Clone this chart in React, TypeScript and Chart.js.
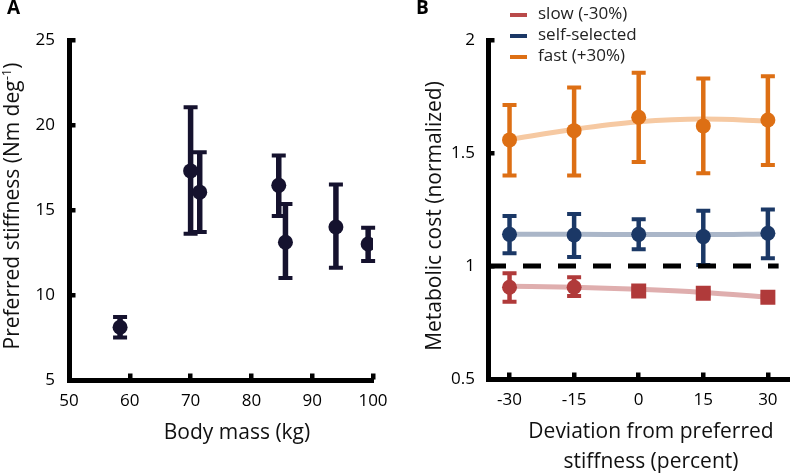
import React, { useEffect, useRef } from "react";
import { Chart, registerables } from "chart.js";

Chart.register(...registerables);

const FONT = "'Open Sans', 'Noto Sans', sans-serif";

// ---------- Panel A data ----------
const bodyMassKg = [58.4, 70.0, 71.5, 84.5, 85.6, 93.9, 99.2];
const prefStiffness = [8.1, 17.3, 16.05, 16.45, 13.1, 14.0, 13.0];
const stiffnessLow = [7.5, 13.6, 13.7, 14.65, 11.0, 11.6, 12.0];
const stiffnessHigh = [8.7, 21.05, 18.4, 18.2, 15.35, 16.5, 13.95];
const massTicks = [50, 60, 70, 80, 90, 100];
const stiffnessTicks = [5, 10, 15, 20, 25];

// ---------- Panel B data ----------
const deviationPct = [-30, -15, 0, 15, 30];
const deviationTicks = [-30, -15, 0, 15, 30];
const costTicks = [0.5, 1, 1.5, 2];
const slowCost = [0.906, 0.906, 0.889, 0.879, 0.862];
const slowLow = [0.842, 0.867, 0.878, 0.87, 0.852];
const slowHigh = [0.968, 0.95, 0.9, 0.888, 0.872];
const slowFit = [0.91, 0.906, 0.897, 0.883, 0.862];
const selfCost = [1.14, 1.137, 1.14, 1.13, 1.145];
const selfLow = [1.056, 1.04, 1.074, 1.004, 1.034];
const selfHigh = [1.221, 1.23, 1.207, 1.245, 1.25];
const selfFit = [1.14, 1.14, 1.139, 1.139, 1.142];
const fastCost = [1.558, 1.599, 1.658, 1.62, 1.646];
const fastLow = [1.4, 1.4, 1.46, 1.41, 1.447];
const fastHigh = [1.712, 1.79, 1.855, 1.83, 1.84];
const fastFit = [1.56, 1.605, 1.638, 1.65, 1.642];
const referenceX = [-35, 32.5];
const referenceY = [1, 1];
const legendLabels = ["slow (-30%)", "self-selected", "fast (+30%)"];

const NAVY = "#15122e";
const RED = "#b03a3a";
const RED_LIGHT = "#dfaeae";
const BLUE = "#1b3866";
const BLUE_LIGHT = "#aab6c8";
const ORANGE = "#dd6f14";
const ORANGE_LIGHT = "#f6c9a2";

const errorBarsPlugin = {
  id: "errorBars",
  beforeDatasetDraw(chart: any, args: any) {
    const ds: any = chart.data.datasets[args.index];
    if (!ds.errLo) return;
    const ctx = chart.ctx;
    const xs = chart.scales.x;
    const ys = chart.scales.y;
    ctx.save();
    ctx.strokeStyle = ds.errColor;
    ctx.lineCap = "butt";
    ds.data.forEach((p: any, i: number) => {
      const x = xs.getPixelForValue(p.x);
      const yLo = ys.getPixelForValue(ds.errLo[i]);
      const yHi = ys.getPixelForValue(ds.errHi[i]);
      ctx.lineWidth = ds.errWidth;
      ctx.beginPath();
      ctx.moveTo(x, yLo);
      ctx.lineTo(x, yHi);
      ctx.stroke();
      ctx.lineWidth = ds.capThick;
      const h = ds.capWidth / 2;
      ctx.beginPath();
      ctx.moveTo(x - h, yLo);
      ctx.lineTo(x + h, yLo);
      ctx.moveTo(x - h, yHi);
      ctx.lineTo(x + h, yHi);
      ctx.stroke();
    });
    ctx.restore();
  },
};

function tickMarksPlugin() {
  return {
    id: "tickMarks",
    afterDraw(chart: any) {
      const ctx = chart.ctx;
      const area = chart.chartArea;
      const xs = chart.scales.x;
      const ys = chart.scales.y;
      ctx.save();
      ctx.fillStyle = "#000";
      xs.ticks.forEach((t: any) => {
        if (t.value === xs.min) return;
        const x = xs.getPixelForValue(t.value);
        ctx.fillRect(Math.round(x - 2.25), area.bottom - 6.5, 4.5, 6);
      });
      ys.ticks.forEach((t: any) => {
        if (t.value === ys.min) return;
        const y = ys.getPixelForValue(t.value);
        ctx.fillRect(area.left, Math.round(y - 2.25), 6.5, 4.5);
      });
      ctx.restore();
    },
  };
}

function drawRotated(ctx: any, cx: number, cy: number, parts: { t: string; size: number; dy: number }[]) {
  ctx.save();
  ctx.translate(cx, cy);
  ctx.rotate(-Math.PI / 2);
  let total = 0;
  parts.forEach((p) => {
    ctx.font = `${p.size}px ${FONT}`;
    total += ctx.measureText(p.t).width;
  });
  let x = -total / 2;
  ctx.textBaseline = "middle";
  ctx.textAlign = "left";
  parts.forEach((p) => {
    ctx.font = `${p.size}px ${FONT}`;
    ctx.fillText(p.t, x, p.dy);
    x += ctx.measureText(p.t).width;
  });
  ctx.restore();
}

function textPluginA() {
  return {
    id: "textA",
    afterDraw(chart: any) {
      const ctx = chart.ctx;
      ctx.save();
      ctx.fillStyle = "#000";
      ctx.font = `bold 19px ${FONT}`;
      ctx.textAlign = "left";
      ctx.textBaseline = "top";
      ctx.fillText("A", 7, -1);
      ctx.fillStyle = "#111";
      ctx.font = `21px ${FONT}`;
      ctx.textAlign = "center";
      ctx.textBaseline = "middle";
      ctx.fillText("Body mass (kg)", 237, 433);
      drawRotated(ctx, 13, 206, [
        { t: "Preferred stiffness (Nm deg", size: 21, dy: 0 },
        { t: "-1", size: 13, dy: -6 },
        { t: ")", size: 21, dy: 0 },
      ]);
      ctx.restore();
    },
  };
}

function textPluginB() {
  return {
    id: "textB",
    afterDraw(chart: any) {
      const ctx = chart.ctx;
      ctx.save();
      ctx.fillStyle = "#000";
      ctx.font = `bold 19px ${FONT}`;
      ctx.textAlign = "left";
      ctx.textBaseline = "top";
      ctx.fillText("B", 16, -1);
      ctx.fillStyle = "#111";
      ctx.font = `21px ${FONT}`;
      ctx.textAlign = "center";
      ctx.textBaseline = "middle";
      ctx.fillText("Deviation from preferred", 251, 432);
      ctx.fillText("stiffness (percent)", 251, 462);
      drawRotated(ctx, 35, 216, [{ t: "Metabolic cost (normalized)", size: 21, dy: 0 }]);
      // legend
      const colors = ["#b94a4a", BLUE, ORANGE];
      const rowsY = [14, 35, 56];
      ctx.font = `17px ${FONT}`;
      ctx.textAlign = "left";
      legendLabels.forEach((lab, i) => {
        ctx.fillStyle = colors[i];
        ctx.fillRect(110, rowsY[i] - 1, 17, 4);
        ctx.fillStyle = "#222";
        ctx.fillText(lab, 138, rowsY[i]);
      });
      ctx.restore();
    },
  };
}

function tickFont() {
  return { family: FONT, size: 17 };
}

function configA(): any {
  return {
    type: "scatter",
    data: {
      datasets: [
        {
          data: bodyMassKg.map((m, i) => ({ x: m, y: prefStiffness[i] })),
          pointRadius: 7.5,
          pointBackgroundColor: NAVY,
          pointBorderWidth: 0,
          errLo: stiffnessLow,
          errHi: stiffnessHigh,
          errColor: NAVY,
          errWidth: 5.5,
          capThick: 4,
          capWidth: 14,
        },
      ],
    },
    options: {
      responsive: false,
      animation: false,
      devicePixelRatio: 1,
      events: [],
      layout: { padding: { top: 40, right: 27, left: 0, bottom: 0 } },
      plugins: { legend: { display: false }, tooltip: { enabled: false } },
      scales: {
        x: {
          type: "linear",
          min: 50,
          max: 100,
          afterBuildTicks: (s: any) => {
            s.ticks = massTicks.map((v) => ({ value: v }));
          },
          afterFit: (s: any) => {
            s.height = 94;
          },
          grid: { display: false, drawTicks: false },
          border: { display: true, width: 5, color: "#000" },
          ticks: { padding: 11, font: tickFont(), color: "#000", maxRotation: 0, autoSkip: false },
        },
        y: {
          type: "linear",
          min: 5,
          max: 25,
          afterBuildTicks: (s: any) => {
            s.ticks = stiffnessTicks.map((v) => ({ value: v }));
          },
          afterFit: (s: any) => {
            s.width = 69;
          },
          grid: { display: false, drawTicks: false },
          border: { display: true, width: 5, color: "#000" },
          ticks: { padding: 14, font: tickFont(), color: "#000", autoSkip: false },
        },
      },
    },
    plugins: [errorBarsPlugin, tickMarksPlugin(), textPluginA()],
  };
}

function scatterSet(vals: number[], lo: number[], hi: number[], color: string, styles: string[], radii: number[]) {
  return {
    type: "scatter",
    order: 0,
    data: deviationPct.map((d, i) => ({ x: d, y: vals[i] })),
    pointRadius: radii,
    pointStyle: styles,
    pointBackgroundColor: color,
    pointBorderWidth: 0,
    errLo: lo,
    errHi: hi,
    errColor: color,
    errWidth: 4.5,
    capThick: 4,
    capWidth: 14,
  };
}

function fitSet(vals: number[], color: string) {
  return {
    type: "line",
    order: 10,
    data: deviationPct.map((d, i) => ({ x: d, y: vals[i] })),
    borderColor: color,
    borderWidth: 5,
    tension: 0.4,
    cubicInterpolationMode: "monotone",
    pointRadius: 0,
    showLine: true,
    fill: false,
  };
}

function configB(): any {
  const c = ["circle", "circle", "circle", "circle", "circle"];
  const r = [7.5, 7.5, 7.5, 7.5, 7.5];
  return {
    type: "scatter",
    data: {
      datasets: [
        {
          type: "line",
          order: -1,
          data: referenceX.map((x, i) => ({ x, y: referenceY[i] })),
          borderColor: "#000",
          borderWidth: 5,
          borderDash: [18, 17],
          pointRadius: 0,
          showLine: true,
          fill: false,
        },
        fitSet(slowFit, RED_LIGHT),
        fitSet(selfFit, BLUE_LIGHT),
        fitSet(fastFit, ORANGE_LIGHT),
        scatterSet(slowCost, slowLow, slowHigh, RED, ["circle", "circle", "rect", "rect", "rect"], [7.5, 7.5, 10.6, 10.6, 10.6]),
        scatterSet(selfCost, selfLow, selfHigh, BLUE, c, r),
        scatterSet(fastCost, fastLow, fastHigh, ORANGE, c, r),
      ],
    },
    options: {
      responsive: false,
      animation: false,
      devicePixelRatio: 1,
      events: [],
      layout: { padding: { top: 40, right: 3, left: 0, bottom: 0 } },
      plugins: { legend: { display: false }, tooltip: { enabled: false } },
      scales: {
        x: {
          type: "linear",
          min: -35,
          max: 35,
          afterBuildTicks: (s: any) => {
            s.ticks = deviationTicks.map((v) => ({ value: v }));
          },
          afterFit: (s: any) => {
            s.height = 95;
          },
          grid: { display: false, drawTicks: false },
          border: { display: true, width: 5, color: "#000" },
          ticks: { padding: 11, font: tickFont(), color: "#000", maxRotation: 0, autoSkip: false },
        },
        y: {
          type: "linear",
          min: 0.5,
          max: 2,
          afterBuildTicks: (s: any) => {
            s.ticks = costTicks.map((v) => ({ value: v }));
          },
          afterFit: (s: any) => {
            s.width = 88;
          },
          grid: { display: false, drawTicks: false },
          border: { display: true, width: 5, color: "#000" },
          ticks: {
            padding: 13,
            font: tickFont(),
            color: "#000",
            autoSkip: false,
            callback: (v: any) => String(v),
          },
        },
      },
    },
    plugins: [errorBarsPlugin, tickMarksPlugin(), textPluginB()],
  };
}

export default function App() {
  const refA = useRef<HTMLCanvasElement>(null);
  const refB = useRef<HTMLCanvasElement>(null);
  useEffect(() => {
    const a = new Chart(refA.current as HTMLCanvasElement, configA());
    const b = new Chart(refB.current as HTMLCanvasElement, configB());
    return () => {
      a.destroy();
      b.destroy();
    };
  }, []);
  return (
    <div style={{ position: "fixed", left: 0, top: 0, width: 800, height: 474, background: "#fff" }}>
      <canvas
        ref={refA}
        width={400}
        height={474}
        style={{ position: "absolute", left: 0, top: 0, width: 400, height: 474 }}
      />
      <canvas
        ref={refB}
        width={400}
        height={474}
        style={{ position: "absolute", left: 400, top: 0, width: 400, height: 474 }}
      />
    </div>
  );
}
